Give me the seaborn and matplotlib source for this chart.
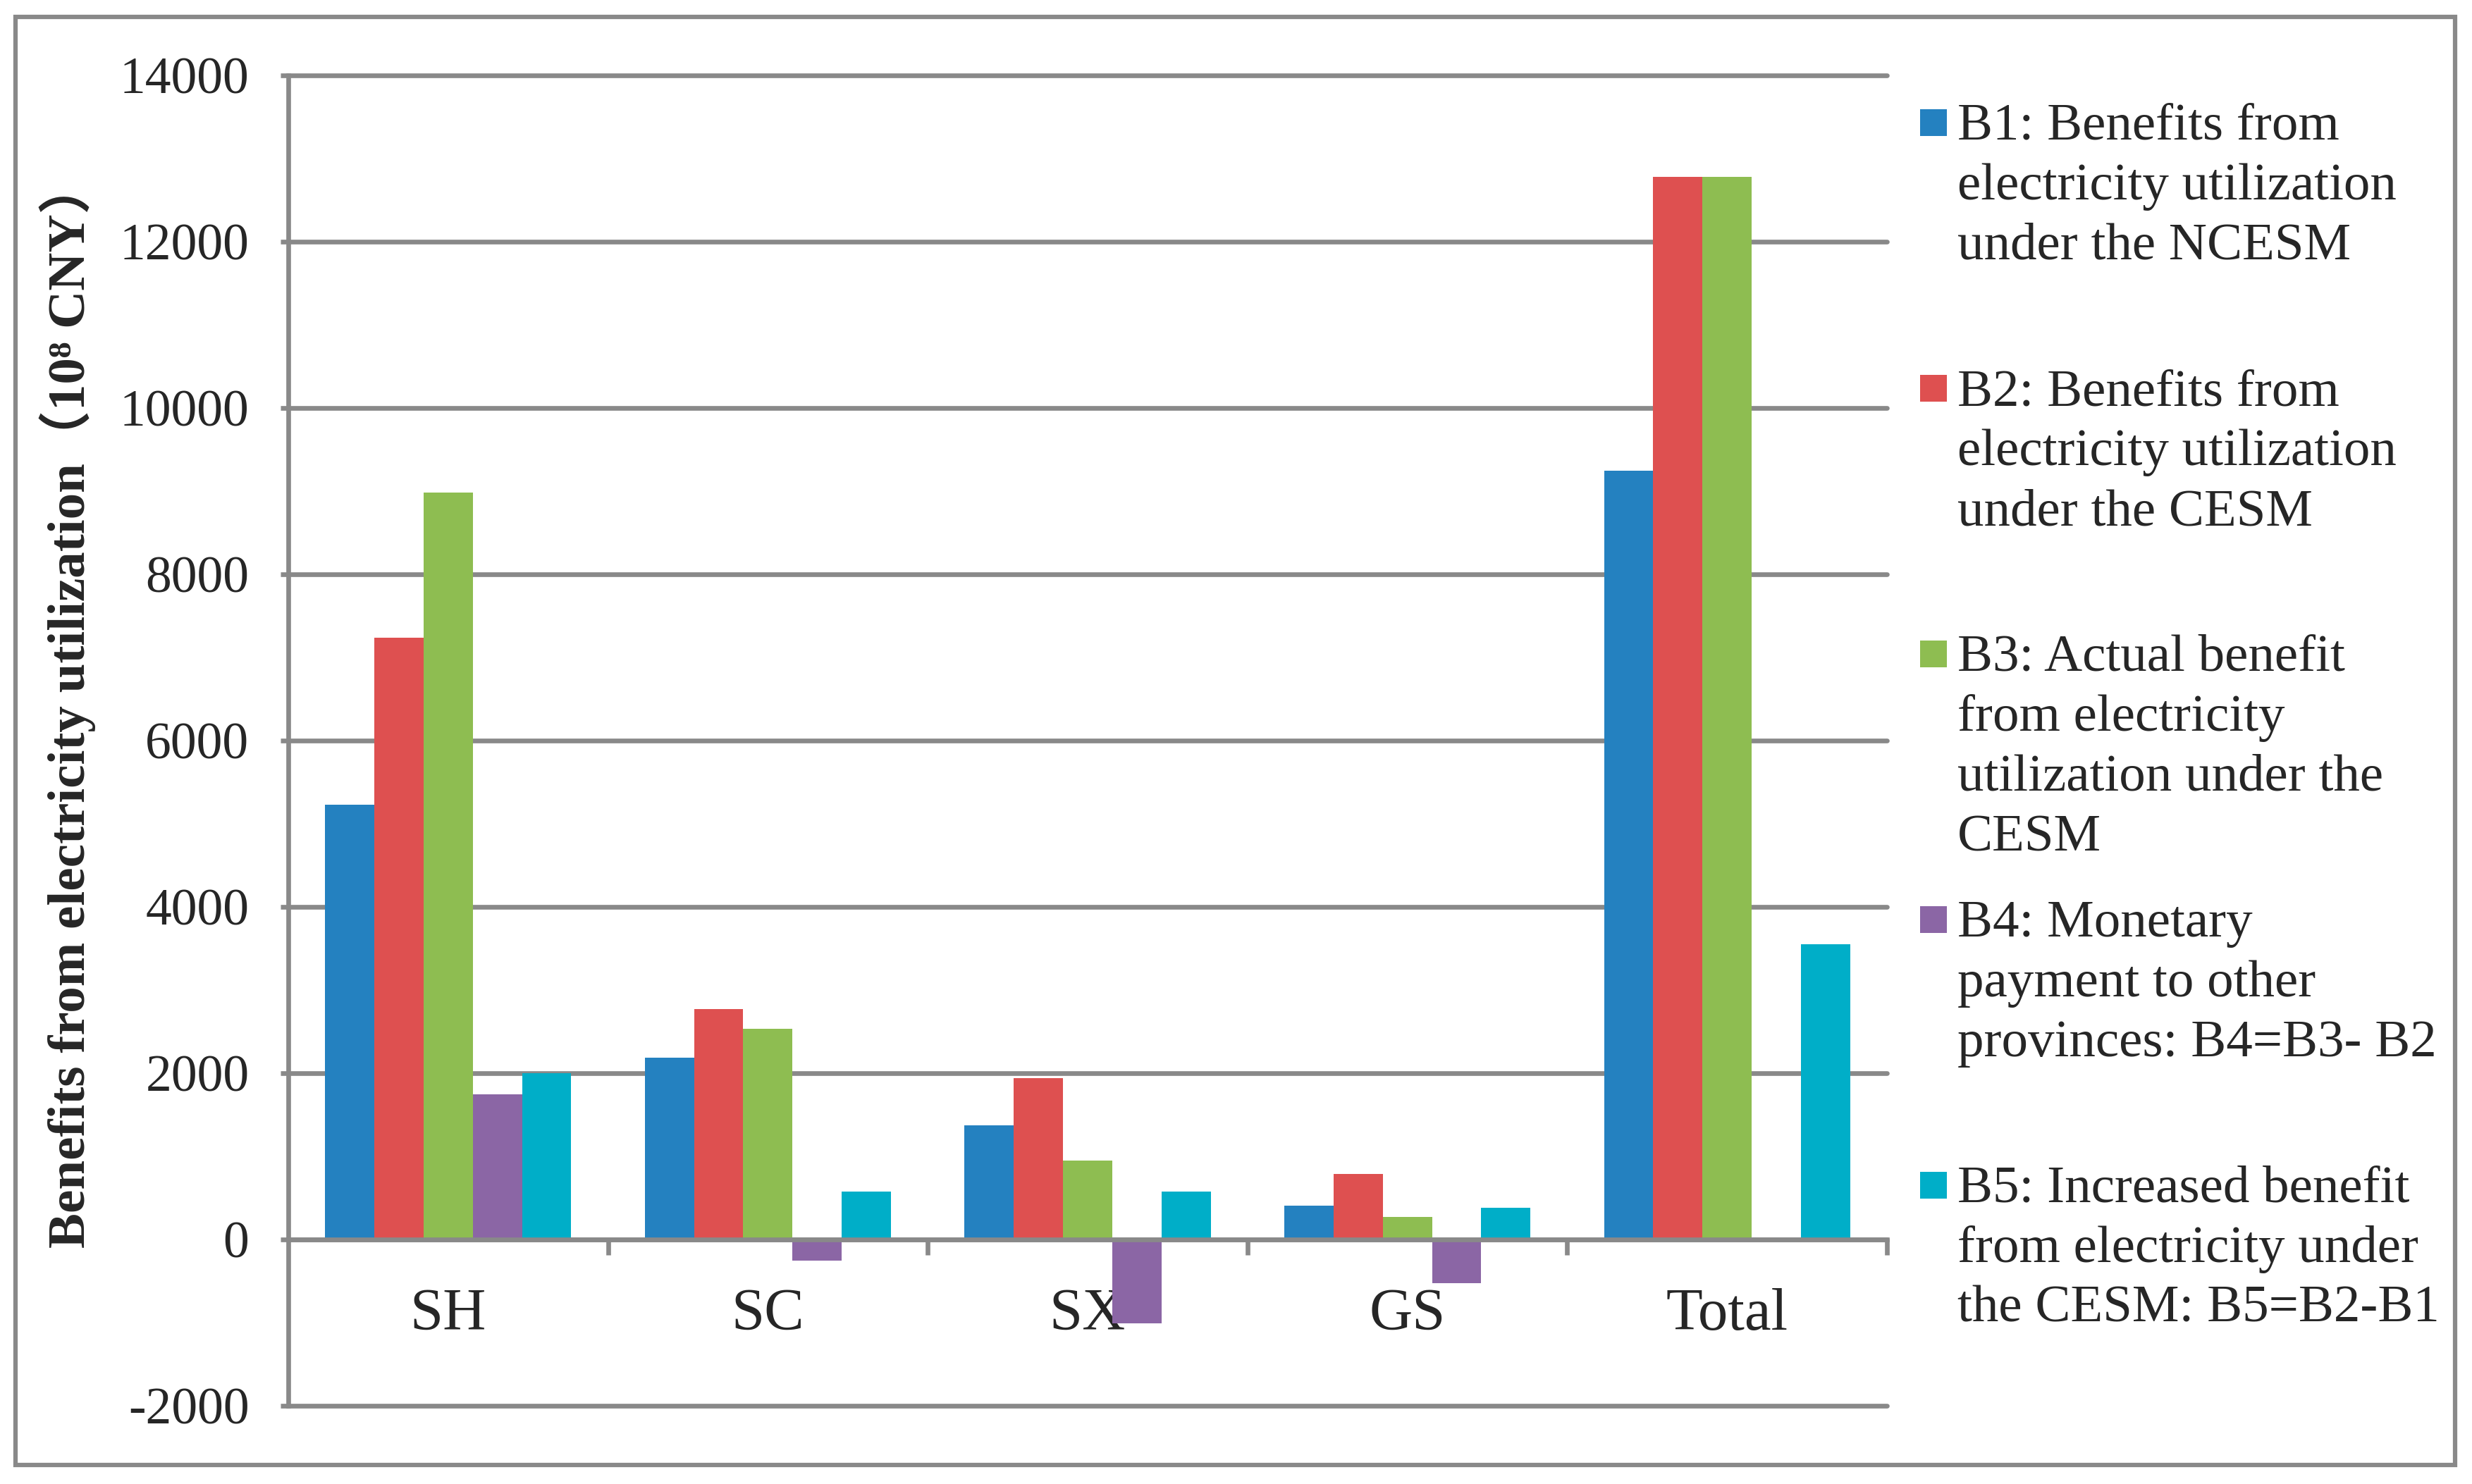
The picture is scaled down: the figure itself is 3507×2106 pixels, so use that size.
import matplotlib
matplotlib.use("Agg")
import matplotlib.pyplot as plt
from matplotlib.patches import Rectangle
import seaborn as sns
import pandas as pd

# values (10^8 CNY)
regions = ["SH", "SC", "SX", "GS", "Total"]
series = ["B1", "B2", "B3", "B4", "B5"]
b1 = [5230, 2190, 1373, 405, 9244]
b2 = [7235, 2773, 1943, 791, 12783]
b3 = [8985, 2538, 947, 268, 12783]
b4 = [1750, -250, -1007, -529, 0]
b5 = [2000, 576, 573, 379, 3548]
colors = ["#2481C0", "#DE5050", "#8EBD51", "#8B66A5", "#00AEC8"]
legend_labels = [
    "B1: Benefits from\nelectricity utilization\nunder the NCESM",
    "B2: Benefits from\nelectricity utilization\nunder the CESM",
    "B3: Actual benefit\nfrom electricity\nutilization under the\nCESM",
    "B4: Monetary\npayment to other\nprovinces: B4=B3- B2",
    "B5: Increased benefit\nfrom electricity under\nthe CESM: B5=B2-B1",
]
yticks = list(range(-2000, 14001, 2000))
ylabel = "Benefits from electricity utilization（10⁸ CNY）"

rows = []
for name, vals in zip(series, [b1, b2, b3, b4, b5]):
    for reg, v in zip(regions, vals):
        rows.append({"region": reg, "series": name, "value": v})
df = pd.DataFrame(rows)

sns.set_style("white")
plt.rcParams["font.family"] = ["Liberation Serif", "DejaVu Serif", "Noto Sans CJK SC"]

GREY = "#898989"
LW = 4.8
W, H = 3507, 2106

fig = plt.figure(figsize=(W / 100, H / 100), dpi=100)
ax = fig.add_axes([409 / W, 1 - 1995 / H, (2677 - 409) / W, (1995 - 107) / H])

sns.barplot(
    data=df, x="region", y="value", hue="series", order=regions, hue_order=series,
    palette=colors, saturation=1, width=0.77, gap=0, errorbar=None,
    legend=False, linewidth=0, ax=ax,
)

ax.set_xlim(-0.5, 4.5)
ax.set_ylim(-2000, 14000)
ax.set_yticks(yticks)
ax.set_yticklabels([str(t) for t in yticks])
ax.tick_params(axis="y", left=True, direction="out", length=8, width=LW, color=GREY,
               pad=32, labelsize=53)

ax.set_xticks(range(len(regions)))
ax.set_xticklabels(regions)
ax.set_xticks([i + 0.5 for i in range(len(regions))], minor=True)
ax.tick_params(axis="x", which="major", bottom=False, pad=46, labelsize=61)
ax.tick_params(axis="x", which="minor", bottom=True, direction="out", length=16,
               width=LW, color=GREY)
ax.set_xlabel("")

ax.yaxis.grid(True, color=GREY, linewidth=LW)
ax.set_axisbelow(True)
for gl in ax.get_ygridlines():
    gl.set_clip_on(False)

for side in ["top", "right"]:
    ax.spines[side].set_visible(False)
ax.spines["bottom"].set_position(("data", 0))
ax.spines["bottom"].set_color(GREY)
ax.spines["bottom"].set_linewidth(LW)
ax.spines["left"].set_color(GREY)
ax.spines["left"].set_linewidth(LW)

ax.set_ylabel(ylabel, fontsize=54, fontweight="bold", va="center")
ax.yaxis.set_label_coords((96 - 409) / (2677 - 409), (1995 - 1000) / (1995 - 107))

# legend drawn by hand so every entry starts on an even step like the original
for k, (lab, col) in enumerate(zip(legend_labels, colors)):
    base = 198 + 377 * k
    fig.patches.append(Rectangle(
        (2724 / W, 1 - (base - 24 + 19) / H), 38 / W, 38 / H,
        transform=fig.transFigure, facecolor=col, edgecolor="none",
    ))
    for i, line in enumerate(lab.split("\n")):
        fig.text(2777 / W, 1 - (base + 85 * i) / H, line, fontsize=54,
                 ha="left", va="baseline")

# outer frame
fig.patches.append(Rectangle(
    (22 / W, 1 - 2079 / H), (3483 - 22) / W, (2079 - 24) / H,
    transform=fig.transFigure, facecolor="none", edgecolor=GREY, linewidth=4.5,
))

fig.savefig("out.png", dpi=100, facecolor="white")
